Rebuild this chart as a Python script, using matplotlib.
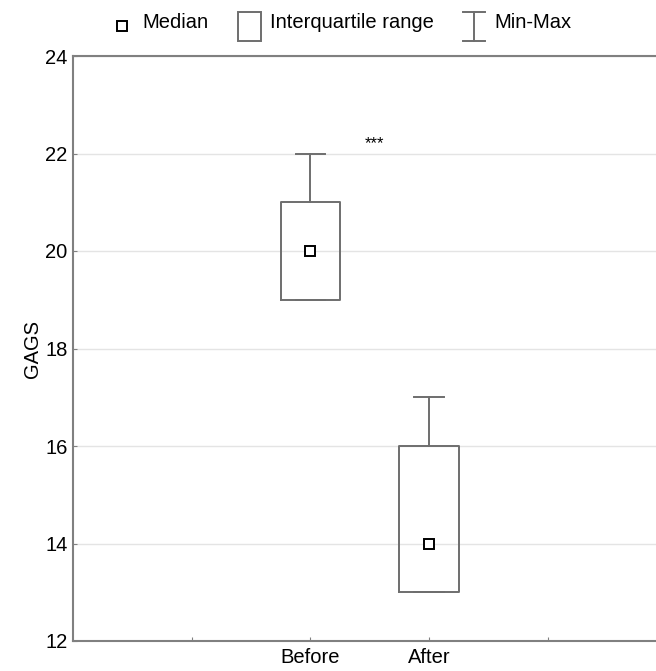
import matplotlib
matplotlib.use('Agg')
import matplotlib.pyplot as plt
from matplotlib.lines import Line2D
from matplotlib.patches import Rectangle

plt.rcParams['font.family'] = ['Liberation Sans', 'DejaVu Sans']

GROUPS = ['Before', 'After']
POSITIONS = [2, 3]
MINS = [19, 13]
Q1S = [19, 13]
MEDIANS = [20, 14]
Q3S = [21, 16]
MAXS = [22, 17]
Y_TICKS = [12, 14, 16, 18, 20, 22, 24]
SIG_LABEL = '***'

EDGE = '#6e6e6e'
SPINE = '#808080'
GRID = '#e4e4e4'
FS = 14.5
W, H = 656, 671

fig = plt.figure(figsize=(W / 100, H / 100), dpi=100)
ax = fig.add_axes([73 / W, 30 / H, 593.5 / W, 585 / H])

stats = []
for i, g in enumerate(GROUPS):
    stats.append(dict(label=g, whislo=MINS[i], q1=Q1S[i], med=MEDIANS[i],
                      q3=Q3S[i], whishi=MAXS[i], fliers=[]))

ax.bxp(stats, positions=POSITIONS, widths=0.5, showfliers=False,
       boxprops=dict(color=EDGE, linewidth=1.4),
       whiskerprops=dict(color=EDGE, linewidth=1.4),
       capprops=dict(color=EDGE, linewidth=1.4),
       medianprops=dict(visible=False), capwidths=0.25, zorder=3)
ax.plot(POSITIONS, MEDIANS, linestyle='none', marker='s', markersize=6.5,
        markerfacecolor='white', markeredgecolor='black', markeredgewidth=1.4,
        zorder=4)

ax.text(2.54, 22.2, SIG_LABEL, ha='center', va='center', fontsize=12)

ax.set_xlim(0, 5)
ax.set_ylim(12, 24)
ax.set_yticks(Y_TICKS)
ax.set_yticklabels([str(t) for t in Y_TICKS], fontsize=FS)
ax.set_xticks([1, 2, 3, 4])
ax.set_xticklabels(['', 'Before', 'After', ''], fontsize=FS)
ax.tick_params(axis='both', direction='in', length=3, color=SPINE, pad=4)
ax.tick_params(axis='x', pad=5)
ax.set_ylabel('GAGS', fontsize=FS, labelpad=2)
ax.yaxis.grid(True, color=GRID, linewidth=1)
ax.set_axisbelow(True)
for s in ['left', 'bottom', 'top']:
    ax.spines[s].set_color(SPINE)
    ax.spines[s].set_linewidth(1.5)
ax.spines['right'].set_visible(False)


def fx(px):
    return px / W


def fy(py):
    return 1 - py / H


# legend
fig.add_artist(Line2D([fx(122)], [fy(26)], marker='s', markersize=6.5,
                      markerfacecolor='white', markeredgecolor='black',
                      markeredgewidth=1.4, linestyle='none'))
fig.text(fx(142), fy(22), 'Median', fontsize=FS, va='center')
fig.add_artist(Rectangle((fx(238), fy(41)), fx(23), 29 / H, fill=False,
                         edgecolor=EDGE, linewidth=1.4))
fig.text(fx(270), fy(22), 'Interquartile range', fontsize=FS, va='center')
fig.add_artist(Line2D([fx(474), fx(474)], [fy(12), fy(41)], color=EDGE, linewidth=1.4))
fig.add_artist(Line2D([fx(463), fx(485)], [fy(12), fy(12)], color=EDGE, linewidth=1.4))
fig.add_artist(Line2D([fx(463), fx(485)], [fy(41), fy(41)], color=EDGE, linewidth=1.4))
fig.text(fx(494), fy(22), 'Min-Max', fontsize=FS, va='center')

fig.savefig('out.png', dpi=100)
